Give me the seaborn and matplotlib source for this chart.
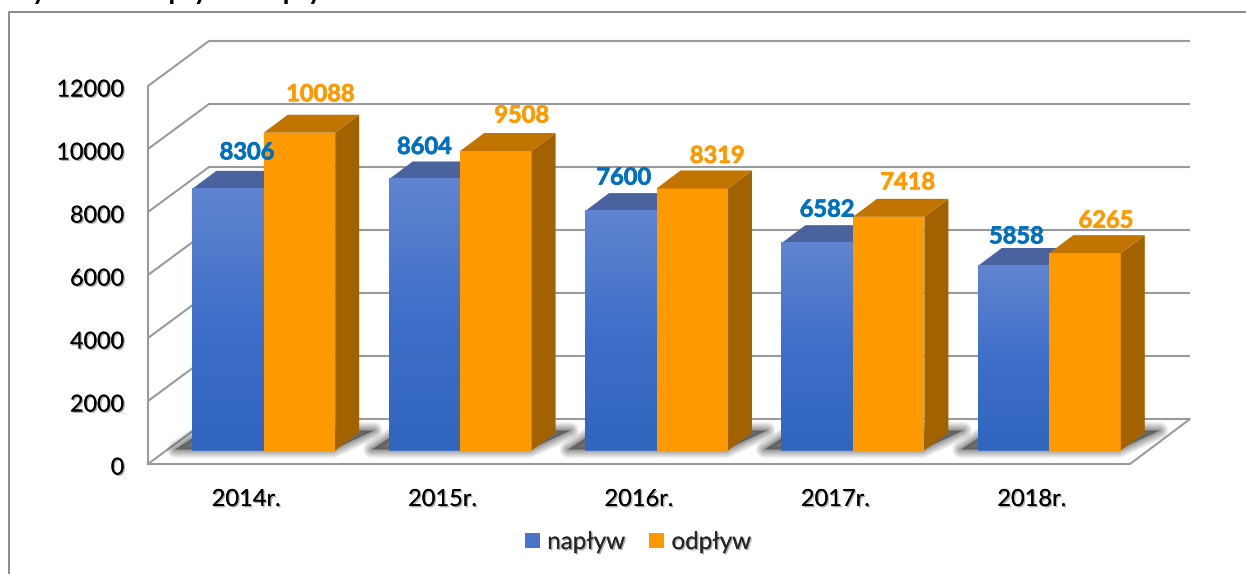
# -*- coding: utf-8 -*-
#
# Napływ i odpływ - slupki 3D odtworzone na zwyklym wykresie seaborn
#

import matplotlib
matplotlib.use('Agg')
import matplotlib.pyplot as plt
import matplotlib.patheffects as pe
from matplotlib.colors import LinearSegmentedColormap
from matplotlib.lines import Line2D
from matplotlib.patches import Polygon
from matplotlib.transforms import ScaledTranslation
import numpy as np
import pandas as pd
import seaborn as sns

years = ['2014r.', '2015r.', '2016r.', '2017r.', '2018r.']
inflow = [8306, 8604, 7600, 6582, 5858]
outflow = [10088, 9508, 8319, 7418, 6265]
y_ticks = [0, 2000, 4000, 6000, 8000, 10000, 12000]
series = ['napływ', 'odpływ']
title = 'Rycina 1. Napływ i odpływ ludności w latach 2014-2018'

# przesuniecia etykiet wzgledem srodka slupka, w pikselach
inflow_shift = [(19, 37), (0, 33), (3, 34), (10, 34), (3, 30)]
outflow_shift = [(21, 39), (26, 36), (25, 33), (19, 35), (21, 33)]

W, H = 1246, 574
LEFT, RIGHT, TOP, BOTTOM = 148, 1130, 86, 464
GRID = '#9a9a9a'

sns.set_theme(style='white')
plt.rcParams['font.family'] = ['Lato', 'DejaVu Sans']

fig = plt.figure(figsize=(W / 100, H / 100), dpi=100)
ax = fig.add_axes([LEFT / W, (H - BOTTOM) / H, (RIGHT - LEFT) / W, (BOTTOM - TOP) / H])

df = pd.DataFrame({
    'rok': years * 2,
    'wartosc': inflow + outflow,
    'seria': [series[0]] * 5 + [series[1]] * 5,
})
sns.barplot(data=df, x='rok', y='wartosc', hue='seria',
            palette=['#4a74c8', '#ff9900'], width=0.728, gap=0,
            saturation=1, linewidth=0, ax=ax)

ax.set_ylim(0, 12000)
ax.set_xlim(-0.5, 4.5)
xlim, ylim = ax.get_xlim(), ax.get_ylim()
px_x = (xlim[1] - xlim[0]) / (RIGHT - LEFT)
px_y = (ylim[1] - ylim[0]) / (BOTTOM - TOP)

shadow = [pe.withSimplePatchShadow(offset=(1, -1), shadow_rgbFace='k', alpha=0.35), pe.Normal()]
sns.despine(ax=ax, left=True, bottom=True)
ax.set_xlabel('')
ax.set_ylabel('')
ax.set_yticks(y_ticks)
ax.tick_params(axis='y', length=0, pad=17, labelsize=16.8, labelcolor='black')
ax.tick_params(axis='x', length=0, pad=18, labelsize=17, labelcolor='black')
for t in ax.get_xticklabels() + ax.get_yticklabels():
    t.set_path_effects(shadow)
for t in ax.get_yticklabels():
    t.set_transform(t.get_transform() + ScaledTranslation(0, -2 / 100, fig.dpi_scale_trans))

# sciany: linie siatki idace w glab wykresu
wall_x = 60 / (RIGHT - LEFT)
wall_y = 45 * px_y
yaxis_tr = ax.get_yaxis_transform()
for t in y_ticks:
    ax.plot([0, 61 / (RIGHT - LEFT), 1 + wall_x], [t, t + wall_y, t + wall_y], color=GRID,
            lw=1.5, transform=yaxis_tr, clip_on=False, zorder=1,
            solid_joinstyle='miter', solid_capstyle='butt')
ax.plot([0, 0], [0, y_ticks[-1]], color=GRID, lw=1.5, transform=yaxis_tr,
        clip_on=False, zorder=1)
ax.plot([0, 1, 1 + wall_x], [0, 0, wall_y], color=GRID, lw=1.5,
        transform=yaxis_tr, clip_on=False, zorder=1, solid_joinstyle='miter')

# slupki stoja nieco glebiej niz przednia krawedz podlogi
tr = ax.transData + ScaledTranslation(17.5 / 100, 13.5 / 100, fig.dpi_scale_trans)
depth_x, depth_y = 24 * px_x, 18 * px_y

blue_cmap = LinearSegmentedColormap.from_list('blue_bar', ['#3166be', '#3f6fc8', '#6084d0'])
bars = ax.containers[0], ax.containers[1]
faces = [('#4a639f', '#3a5a9c'), ('#c27400', '#a36200')]
shifts = [inflow_shift, outflow_shift]

# miekki cien na podlodze pod kazda para slupkow
for b0, b1 in zip(*bars):
    x0 = b0.get_x()
    x1 = b1.get_x() + b1.get_width()
    pts = [(x0 - 17 * px_x, 1 * px_y), (x1 - 2 * px_x, 1 * px_y),
           (x1 + 39 * px_x, 20 * px_y), (x0 + 12 * px_x, 20 * px_y)]
    for lw in [12, 10, 8, 6, 4.5, 3, 1.5]:
        ax.add_patch(Polygon(pts, closed=True, facecolor='none', edgecolor='#383838',
                             alpha=0.09, lw=lw, joinstyle='round', transform=tr,
                             clip_on=False, zorder=2))
    ax.add_patch(Polygon(pts, closed=True, facecolor='#383838', edgecolor='none',
                         alpha=0.6, transform=tr, clip_on=False, zorder=2))

for k, container in enumerate(bars):
    top_col, side_col = faces[k]
    for i, bar in enumerate(container):
        x0, x1 = bar.get_x(), bar.get_x() + bar.get_width()
        h = bar.get_height()
        bar.set_transform(tr)
        bar.set_clip_on(False)
        bar.set_zorder(3 + k * 2)
        ax.add_patch(Polygon([(x0, h), (x1, h), (x1 + depth_x, h + depth_y), (x0 + depth_x, h + depth_y)],
                             closed=True, facecolor=top_col, edgecolor='none',
                             transform=tr, clip_on=False, zorder=3 + k * 2))
        ax.add_patch(Polygon([(x1, 0), (x1 + depth_x, depth_y), (x1 + depth_x, h + depth_y), (x1, h)],
                             closed=True, facecolor=side_col, edgecolor='none',
                             transform=tr, clip_on=False, zorder=3 + k * 2))
        if k == 0:
            # gradient na przedniej scianie niebieskich slupkow
            ax.imshow(np.linspace(1, 0, 64).reshape(-1, 1), extent=[x0, x1, 0, h],
                      cmap=blue_cmap, aspect='auto', transform=tr, clip_on=False,
                      zorder=3.5)
        dx, dy = shifts[k][i]
        col = ['#0070c0', '#ff9900'][k]
        label = ax.annotate(str(int(h)), xy=(x0 + bar.get_width() / 2, h), xycoords=tr,
                            xytext=(dx * 0.72, dy * 0.72), textcoords='offset points',
                            ha='center', va='center', fontsize=17, fontweight='bold',
                            color=col, zorder=10, annotation_clip=False)
        label.set_path_effects([pe.withStroke(linewidth=0.5, foreground=col)])

ax.set_xlim(xlim)
ax.set_ylim(ylim)

handles, labels = ax.get_legend_handles_labels()
ax.get_legend().remove()
leg = fig.legend(handles, labels, loc='center', bbox_to_anchor=(638 / W, (H - 542.5) / H),
                 ncol=2, frameon=False, fontsize=17.4, handlelength=0.62,
                 handleheight=0.62, handletextpad=0.3, columnspacing=1.0,
                 borderpad=0, borderaxespad=0)
for t in leg.get_texts():
    t.set_path_effects(shadow)

# ramka obrazka (prawa i dolna krawedz poza kadrem) i uciety tytul
fig.add_artist(Line2D([9 / W, 9 / W, 1], [0, (H - 12) / H, (H - 12) / H], color='#8c8c8c', lw=1.4))
fig.text(14 / W, (H + 0.5) / H, title, fontsize=20, fontweight='bold', color='black',
         ha='left', va='baseline')

fig.savefig('out.png', dpi=100, facecolor='white')
